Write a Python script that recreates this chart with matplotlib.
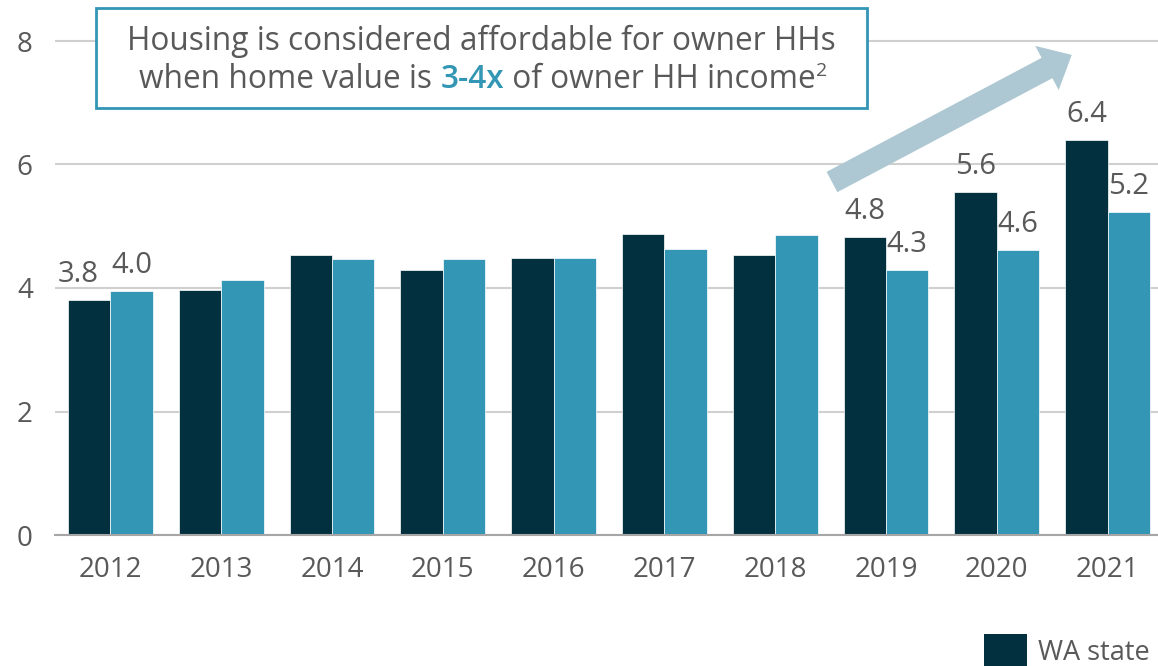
import numpy as np
import matplotlib.pyplot as plt
from matplotlib.patches import FancyArrow, Rectangle, Patch
from matplotlib.transforms import IdentityTransform

plt.rcParams["font.family"] = ["Open Sans", "DejaVu Sans"]

years = ["2012", "2013", "2014", "2015", "2016", "2017", "2018", "2019", "2020", "2021"]
wa_state = [3.81, 3.97, 4.53, 4.29, 4.49, 4.87, 4.53, 4.83, 5.56, 6.39]
other = [3.95, 4.13, 4.47, 4.47, 4.49, 4.63, 4.86, 4.29, 4.62, 5.23]
labeled_years = ["2012", "2019", "2020", "2021"]

DARK = "#03303f"
TEAL = "#3296b4"
GREY = "#595959"

W, H = 1158, 666
fig = plt.figure(figsize=(W / 100, H / 100), dpi=100)
ax = fig.add_axes([55 / W, 131 / H, 1108 / W, 535 / H])

x = np.arange(len(years))
bw = 0.383
b1 = ax.bar(x - bw / 2, wa_state, bw, color=DARK, edgecolor="white", linewidth=0.5,
            label="WA state", zorder=2)
b2 = ax.bar(x + bw / 2, other, bw, color=TEAL, edgecolor="white", linewidth=0.5, zorder=2)

for i, yr in enumerate(years):
    if yr in labeled_years:
        for bar, v in ((b1[i], wa_state[i]), (b2[i], other[i])):
            dx = -8 if (yr == "2012" and bar is b1[i]) else 0
            ax.annotate(f"{v:.1f}", (bar.get_x() + bar.get_width() / 2, bar.get_height()),
                        xytext=(dx, 8), textcoords="offset points", ha="center", va="bottom",
                        fontsize=21, color=GREY, zorder=3)

ax.set_xlim(-0.5, 9.5)
ax.set_ylim(0, 535 / 61.75)
ax.set_yticks([0, 2, 4, 6, 8])
ax.set_xticks(x)
ax.set_xticklabels(years)
ax.tick_params(axis="both", length=0, labelsize=20, labelcolor=GREY)
ax.tick_params(axis="y", pad=16)
ax.tick_params(axis="x", pad=15)
ax.grid(axis="y", color="#d0d0d0", linewidth=1.5, zorder=0)
ax.set_axisbelow(True)
for s in ["top", "right", "left"]:
    ax.spines[s].set_visible(False)
ax.spines["bottom"].set_color("#a6a6a6")
ax.spines["bottom"].set_linewidth(1.5)

# callout box (pixel coords, origin bottom-left)
box = Rectangle((96, H - 108), 771, 100, transform=IdentityTransform(),
                facecolor="white", edgecolor=TEAL, linewidth=2, zorder=5)
fig.add_artist(box)
fig.text(481 / W, 1 - 41 / H, "Housing is considered affordable for owner HHs",
         ha="center", va="center", fontsize=22.8, color=GREY, zorder=6)

# second line with coloured part, laid out piece by piece
pieces = [("when home value is ", GREY, 22.8, 0, "normal"),
          ("3-4x", TEAL, 22.8, 0, "semibold"),
          (" of owner HH income", GREY, 22.8, 0, "normal"),
          ("2", GREY, 14, 9, "normal")]
fig.canvas.draw()
r = fig.canvas.get_renderer()
tmp = [fig.text(0, 0, t, fontsize=fs, fontweight=fw) for t, c, fs, dy, fw in pieces]
widths = [t.get_window_extent(r).width for t in tmp]
for t in tmp:
    t.remove()
xpos = 483 - sum(widths) / 2
for (t, c, fs, dy, fw), w in zip(pieces, widths):
    fig.text(xpos / W, (H - 80 + dy) / H, t, ha="left", va="center", fontsize=fs,
             fontweight=fw, color=c, zorder=6)
    xpos += w

arrow = FancyArrow(832, H - 182, 241 - 26, 128 - 14, width=23, head_width=50,
                   head_length=28, length_includes_head=False, transform=IdentityTransform(),
                   facecolor="#adc8d2", edgecolor="none", zorder=4)
fig.add_artist(arrow)

fig.legend(handles=[Patch(facecolor=DARK, label="WA state")], loc="upper left",
           bbox_to_anchor=(984 / W, 1 - 634 / H), frameon=False, fontsize=19.5,
           labelcolor=GREY, handlelength=1.6, handleheight=1.6, handletextpad=0.4,
           borderpad=0, borderaxespad=0)

fig.savefig("out.png", dpi=100)
